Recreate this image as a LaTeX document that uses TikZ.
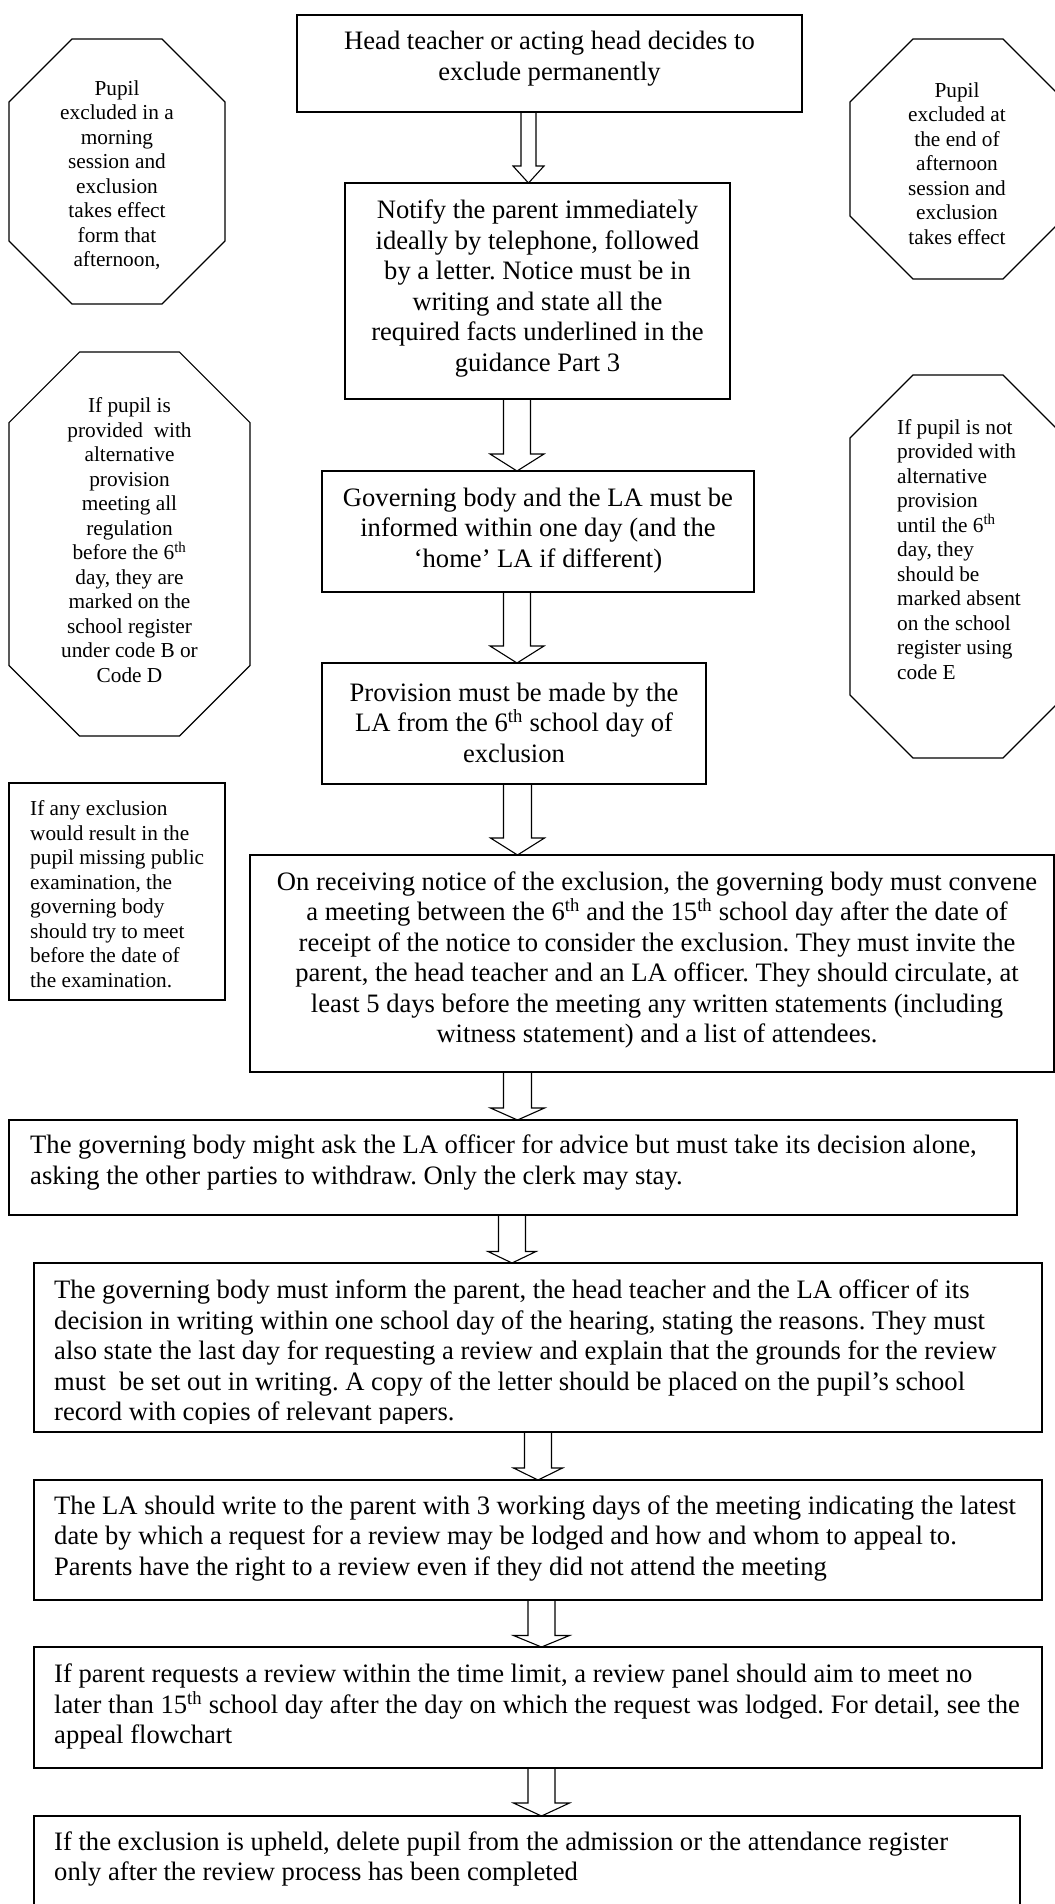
\documentclass[tikz,border=0pt]{standalone}
\usepackage{fontspec}
\setmainfont{Liberation Serif}
\usetikzlibrary{calc}
\frenchspacing
\newcommand\bigf{\fontsize{26.6}{30.5}\selectfont}
\newcommand\smf{\fontsize{21.3}{24.5}\selectfont}
\newcommand\thsup{\textsuperscript{th}}
\tikzset{
  rectbox/.style={draw, line width=1.4pt, inner sep=0pt, outer sep=0pt, anchor=north west},
  octframe/.style={draw=none, inner sep=0pt, outer sep=0pt, anchor=north west},
  octline/.style={line width=1.2pt, line join=miter},
  bigtext/.style={inner sep=0pt, font=\bigf},
  smalltext/.style={inner sep=0pt, font=\smf},
  arrowline/.style={line width=1.1pt, line join=miter},
}
% block arrow from bottom of #1 to top of #2, centred at x=#3, shaft half width #4, head half width #5, head length #6
\newcommand\blockarrow[6]{%
  \draw[arrowline] let \p1=(#1.south), \p2=(#2.north) in
    ({#3pt-#4pt},{\y1}) -- ({#3pt-#4pt},{\y2+#6pt}) -- ({#3pt-#5pt},{\y2+#6pt}) --
    ({#3pt},{\y2}) -- ({#3pt+#5pt},{\y2+#6pt}) -- ({#3pt+#4pt},{\y2+#6pt}) --
    ({#3pt+#4pt},{\y1}) -- cycle;}
% octagon drawn on the frame of node #1 with corner #2
\newcommand\octagonof[2]{%
  \draw[octline] ($(#1.north west)+(#2,0)$) -- ($(#1.north east)+(-#2,0)$) --
    ($(#1.north east)+(0,#2)$) -- ($(#1.south east)+(0,-#2)$) --
    ($(#1.south east)+(-#2,0)$) -- ($(#1.south west)+(#2,0)$) --
    ($(#1.south west)+(0,-#2)$) -- ($(#1.north west)+(0,#2)$) -- cycle;}
\begin{document}
\begin{tikzpicture}[x=1pt,y=-1pt]
\useasboundingbox (0,0) rectangle (1055,1904);
\fill[white] (0,0) rectangle (1055,1904);

% ---------- main boxes ----------
\node[rectbox, minimum width=505, minimum height=97] (b1) at (297,15) {};
\node[bigtext, align=center] (t1) at (549.5,58.5) {Head teacher or acting head decides to\\exclude permanently};

\node[rectbox, minimum width=385, minimum height=216] (b2) at (345,183) {};
\node[bigtext, align=center] (t2) at (537.5,288.5) {Notify the parent immediately\\ideally by telephone, followed\\by a letter. Notice must be in\\writing and state all the\\required facts underlined in the\\guidance Part 3};

\node[rectbox, minimum width=432, minimum height=121] (b3) at (322,471) {};
\node[bigtext, align=center] (t3) at (538,530.5) {Governing body and the LA must be\\informed within one day (and the\\‘home’ LA if different)};

\node[rectbox, minimum width=384, minimum height=121] (b4) at (322,663) {};
\node[bigtext, align=center] (t4) at (514,722.5) {Provision must be made by the\\LA from the 6\thsup{} school day of\\exclusion};

\node[rectbox, minimum width=804, minimum height=217] (b5) at (250,855) {};
\node[bigtext, align=center] (t5) at (657,960) {On receiving notice of the exclusion, the governing body must convene\\a meeting between the 6\thsup{} and the 15\thsup{} school day after the date of\\receipt of the notice to consider the exclusion. They must invite the\\parent, the head teacher and an LA officer. They should circulate, at\\least 5 days before the meeting any written statements (including\\witness statement) and a list of attendees.};

\node[rectbox, minimum width=1008, minimum height=95] (b6) at (9,1120) {};
\node[bigtext, align=left, anchor=west] (t6) at (30,1162.5) {The governing body might ask the LA officer for advice but must take its decision alone,\\asking the other parties to withdraw. Only the clerk may stay.};

\node[rectbox, minimum width=1008, minimum height=169] (b7) at (34,1263) {};
\begin{scope}
\clip (34,1263) rectangle (1042,1423);
\node[bigtext, align=left, anchor=west] (t7) at (54,1353) {The governing body must inform the parent, the head teacher and the LA officer of its\\decision in writing within one school day of the hearing, stating the reasons. They must\\also state the last day for requesting a review and explain that the grounds for the review\\must\ \ be set out in writing. A copy of the letter should be placed on the pupil’s school\\record with copies of relevant papers.};
\end{scope}

\node[rectbox, minimum width=1008, minimum height=120] (b8) at (34,1480) {};
\node[bigtext, align=left, anchor=west] (t8) at (54,1538) {The LA should write to the parent with 3 working days of the meeting indicating the latest\\date by which a request for a review may be lodged and how and whom to appeal to.\\Parents have the right to a review even if they did not attend the meeting};

\node[rectbox, minimum width=1008, minimum height=121] (b9) at (34,1647) {};
\node[bigtext, align=left, anchor=west] (t9) at (54,1706.5) {If parent requests a review within the time limit, a review panel should aim to meet no\\later than 15\thsup{} school day after the day on which the request was lodged. For detail, see the\\appeal flowchart};

\node[rectbox, minimum width=986, minimum height=110] (b10) at (34,1816) {};
\node[bigtext, align=left, anchor=west] (t10) at (54,1859) {If the exclusion is upheld, delete pupil from the admission or the attendance register\\only after the review process has been completed};

% ---------- side notes ----------
\node[rectbox, minimum width=216, minimum height=217] (sl) at (9,783) {};
\node[smalltext, align=left, anchor=west] (tsl) at (30,894) {If any exclusion\\would result in the\\pupil missing public\\examination, the\\governing body\\should try to meet\\before the date of\\the examination.};

\node[octframe, minimum width=216, minimum height=265] (o1) at (9,39) {};
\octagonof{o1}{63}
\node[smalltext, align=center] (to1) at (117,175) {Pupil\\excluded in a\\morning\\session and\\exclusion\\takes effect\\form that\\afternoon,};

\node[octframe, minimum width=216, minimum height=240] (o2) at (850,39) {};
\octagonof{o2}{63}
\node[smalltext, align=center] (to2) at (957,163.5) {Pupil\\excluded at\\the end of\\afternoon\\session and\\exclusion\\takes effect};

\node[octframe, minimum width=241, minimum height=384] (o3) at (9,352) {};
\octagonof{o3}{70.6}
\node[smalltext, align=center] (to3) at (129.5,540) {If pupil is\\provided\ \ with\\alternative\\provision\\meeting all\\regulation\\before the 6\thsup\\day, they are\\marked on the\\school register\\under code B or\\Code D};

\node[octframe, minimum width=216, minimum height=383] (o4) at (850,375) {};
\octagonof{o4}{63}
\node[smalltext, align=left, anchor=west] (to4) at (897,549.5) {If pupil is not\\provided with\\alternative\\provision\\until the 6\thsup\\day, they\\should be\\marked absent\\on the school\\register using\\code E};

% ---------- block arrows ----------
\blockarrow{b1}{b2}{528.5}{7.5}{15.5}{17}
\blockarrow{b2}{b3}{517}{13.5}{27}{17}
\blockarrow{b3}{b4}{517}{13.5}{27}{17}
\blockarrow{b4}{b5}{517.5}{14}{27}{17}
\blockarrow{b5}{b6}{517.5}{14}{27}{12}
\blockarrow{b6}{b7}{512}{13.5}{24}{11.5}
\blockarrow{b7}{b8}{538}{13.5}{24.5}{12}
\blockarrow{b8}{b9}{541.5}{13.5}{28}{11.5}
\blockarrow{b9}{b10}{541.5}{13.5}{28}{13}
\end{tikzpicture}
\end{document}
